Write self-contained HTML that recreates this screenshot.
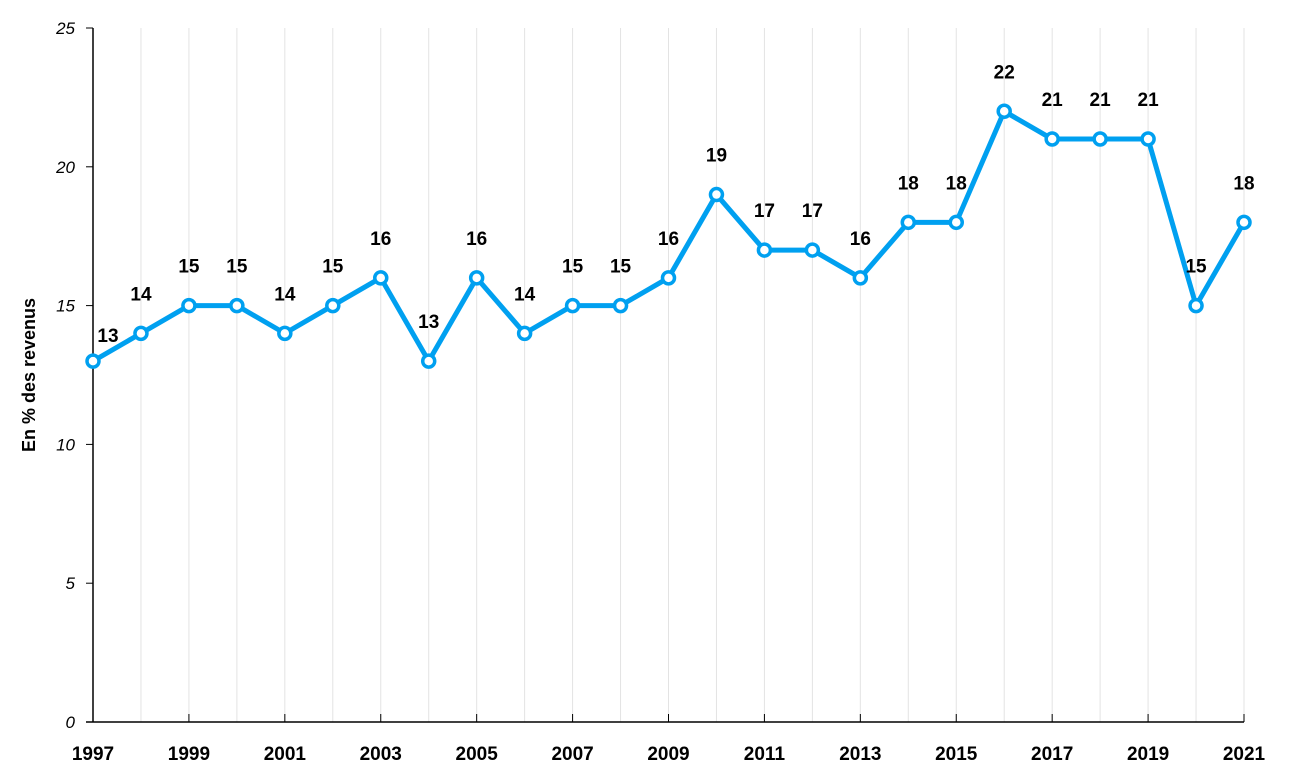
<!DOCTYPE html>
<html><head><meta charset="utf-8"><style>
html,body{margin:0;padding:0;background:#fff;}
svg{display:block;font-family:"Liberation Sans",sans-serif;}
</style></head><body>
<svg id="chart" width="1297" height="776">
<g id="grid"></g>
<g id="axes"></g>
<g id="series"></g>
<text transform="translate(35,375) rotate(-90)" text-anchor="middle" font-size="18" font-weight="bold" fill="#000">En % des revenus</text>
</svg>
<script>
const years = [1997,1998,1999,2000,2001,2002,2003,2004,2005,2006,2007,2008,2009,2010,2011,2012,2013,2014,2015,2016,2017,2018,2019,2020,2021];
const values = [13,14,15,15,14,15,16,13,16,14,15,15,16,19,17,17,16,18,18,22,21,21,21,15,18];
const yTicks = [0,5,10,15,20,25];
const NS = "http://www.w3.org/2000/svg";
const x0 = 93, x1 = 1244, yBase = 722, yTop = 28;
function xs(i){ return x0 + (x1 - x0) * i / (years.length - 1); }
function ys(v){ return yBase - (yBase - yTop) * v / 25; }
function mk(tag, attrs, parent){ const e = document.createElementNS(NS, tag); for (const k in attrs) e.setAttribute(k, attrs[k]); parent.appendChild(e); return e; }
const grid = document.getElementById('grid'), axes = document.getElementById('axes'), series = document.getElementById('series');
years.forEach((y, i) => {
  if (i > 0) {
    const g = mk('line', {x1: xs(i), x2: xs(i), y1: yTop, y2: yBase, stroke: '#e3e3e3', 'stroke-width': 1}, grid);
    
    
  }
  if (i % 2 === 0) {
    const t = mk('line', {x1: xs(i), x2: xs(i), y1: yBase - 8, y2: yBase, stroke: '#000', 'stroke-width': 1}, axes);
    
    
    const l = mk('text', {x: xs(i), y: 760, 'text-anchor': 'middle', 'font-size': 19, 'font-weight': 'bold'}, axes);
    l.textContent = y;
    
    
  }
});
yTicks.forEach(v => {
  const t = mk('line', {x1: x0 - 7, x2: x0, y1: ys(v), y2: ys(v), stroke: '#000', 'stroke-width': 1}, axes);
  
  
  const l = mk('text', {x: 75, y: ys(v) + 6, 'text-anchor': 'end', 'font-size': 17, 'font-style': 'italic'}, axes);
  l.textContent = v;
  
  
});
const ya = mk('line', {x1: x0, x2: x0, y1: yTop, y2: yBase, stroke: '#000', 'stroke-width': 1.5}, axes);


const xa = mk('line', {x1: x0 - 7, x2: x1, y1: yBase, y2: yBase, stroke: '#000', 'stroke-width': 1.5}, axes);


const pts = values.map((v, i) => xs(i) + ',' + ys(v)).join(' ');
const pl = mk('polyline', {points: pts, fill: 'none', stroke: '#00a0f0', 'stroke-width': 5, 'stroke-linejoin': 'round'}, series);


values.forEach((v, i) => {
  const c = mk('circle', {cx: xs(i), cy: ys(v), r: 6, fill: '#fff', stroke: '#00a0f0', 'stroke-width': 3.5}, series);
  
  
  let lx = xs(i), ly = ys(v) - 33;
  if (i === 0) { lx = xs(i) + 15; ly = ys(v) - 19; }
  const l = mk('text', {x: lx, y: ly, 'text-anchor': 'middle', 'font-size': 19, 'font-weight': 'bold'}, series);
  l.textContent = v;
  
  
});
</script>
</body></html>
